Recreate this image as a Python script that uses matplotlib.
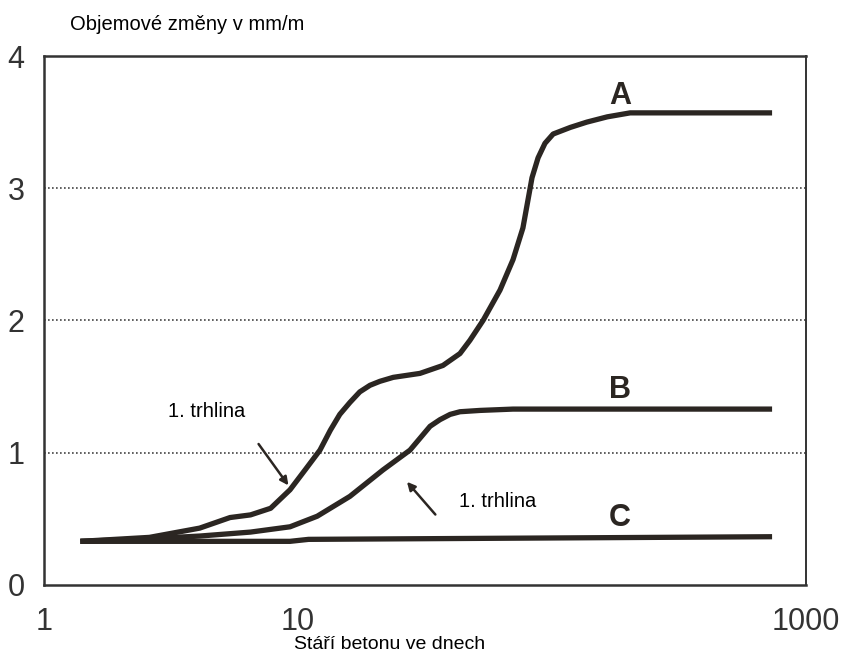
import matplotlib
matplotlib.use('Agg')
from matplotlib import pyplot as plt
from matplotlib import font_manager

# values (x = age in days, y = mm/m)
a_days = [1.39, 2.6, 4.1, 5.4, 6.5, 7.8, 9.3, 10.66, 12.2, 13.4, 14.6, 16.0, 17.5, 19.2,
          21.0, 23.7, 30.2, 37.2, 43.4, 47.5, 53.5, 62.4, 70.2, 76.8, 83.4, 88.1, 93.8,
          101, 118, 137, 165, 203, 735]
a_vals = [0.33, 0.36, 0.43, 0.51, 0.53, 0.58, 0.72, 0.87, 1.02, 1.17, 1.29, 1.38, 1.46, 1.51,
          1.54, 1.57, 1.60, 1.66, 1.75, 1.85, 2.0, 2.23, 2.46, 2.70, 3.08, 3.23, 3.34,
          3.41, 3.46, 3.50, 3.54, 3.57, 3.57]
b_days = [1.39, 2.6, 4.1, 6.5, 9.3, 11.9, 16.0, 21.6, 27.6, 33.1, 36.2, 39.7, 43.4, 52.1,
          70.2, 735]
b_vals = [0.33, 0.35, 0.37, 0.40, 0.44, 0.52, 0.67, 0.87, 1.02, 1.20, 1.25, 1.29, 1.31, 1.32,
          1.33, 1.33]
c_days = [1.39, 9.3, 11.0, 735]
c_vals = [0.33, 0.33, 0.345, 0.365]

curve_names = ['A', 'B', 'C']
name_pos = [(185, 3.70), (185, 1.475), (185, 0.51)]

x_ticks = [1, 10, 1000]
x_ticklabels = ['1', '10', '1000']
y_ticks = [0, 1, 2, 3, 4]

names = {f.name for f in font_manager.fontManager.ttflist}
if 'Liberation Sans Narrow' in names:
    num_font = ['Liberation Sans Narrow', 'DejaVu Sans']
    num_size = 24
else:
    num_font = ['Liberation Sans', 'DejaVu Sans']
    num_size = 22
txt_font = ['Liberation Sans', 'DejaVu Sans']
ink = '#2b2622'

fig = plt.figure(figsize=(8.42, 6.55), dpi=100)
ax = fig.add_axes([0.0523, 0.1069, 0.905, 0.8076])

for xs, ys in [(a_days, a_vals), (b_days, b_vals), (c_days, c_vals)]:
    ax.plot(xs, ys, color=ink, lw=3.8, solid_capstyle='butt', solid_joinstyle='round')

ax.set_xscale('log')
ax.set_xlim(1, 1000)
ax.set_ylim(0, 4)

for y in [1, 2, 3]:
    ax.axhline(y, color='#444444', lw=1.2, ls=(0, (1, 1.4)), zorder=0)

ax.set_xticks(x_ticks)
ax.set_xticklabels(x_ticklabels)
ax.minorticks_off()
ax.set_yticks(y_ticks)
ax.tick_params(axis='both', length=0, labelcolor='#333333')
ax.tick_params(axis='x', pad=16)
ax.tick_params(axis='y', pad=14)
for lbl in ax.get_xticklabels() + ax.get_yticklabels():
    lbl.set_family(num_font)
    lbl.set_fontsize(num_size)

for side in ['left', 'bottom', 'top']:
    ax.spines[side].set_linewidth(1.8)
    ax.spines[side].set_color('#333333')
ax.spines['right'].set_linewidth(1.4)
ax.spines['right'].set_color('#333333')

for name, (x, y) in zip(curve_names, name_pos):
    ax.text(x, y, name, ha='center', va='center', fontsize=22, fontweight='bold',
            family=num_font, color=ink)

ax.annotate('', xy=(9.3, 0.736), xytext=(6.89, 1.083),
            arrowprops=dict(arrowstyle='-|>', lw=1.8, color=ink, mutation_scale=12))
ax.annotate('', xy=(26.4, 0.796), xytext=(35.3, 0.517),
            arrowprops=dict(arrowstyle='-|>', lw=1.8, color=ink, mutation_scale=12))
ax.text(4.38, 1.31, '1. trhlina', ha='center', va='center', fontsize=14.5, family=txt_font)
ax.text(61.3, 0.63, '1. trhlina', ha='center', va='center', fontsize=14.5, family=txt_font)

fig.text(0.083, 0.962, 'Objemové změny v mm/m', ha='left', va='center', fontsize=14.5, family=txt_font)
fig.text(0.463, 0.0153, 'Stáří betonu ve dnech', ha='center', va='center', fontsize=14, family=txt_font)

plt.savefig('out.png', dpi=100)
plt.close()
